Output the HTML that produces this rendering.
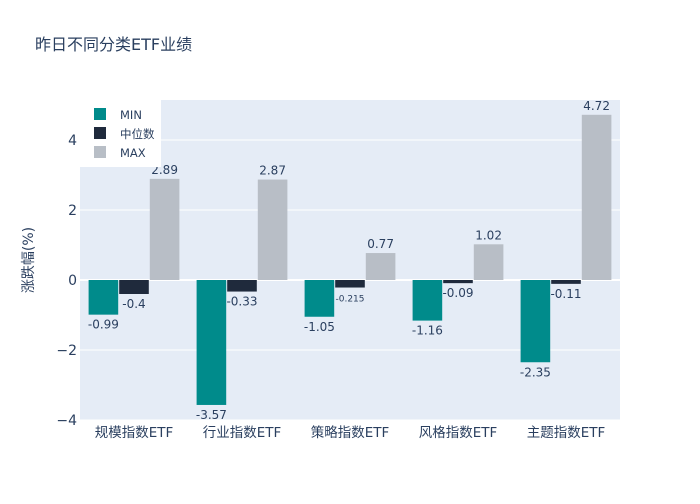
<!DOCTYPE html>
<html><head><meta charset="utf-8"><style>
body{margin:0;background:#fff;font-family:"DejaVu Sans","Noto Sans CJK SC",sans-serif}
</style></head><body>
<svg id="c" width="700" height="500" xmlns="http://www.w3.org/2000/svg" font-family="DejaVu Sans, Noto Sans CJK SC, sans-serif">
<text x="35" y="50" font-size="16" fill="#2a3f5f">昨日不同分类ETF业绩</text>
<rect x="80" y="100" width="540" height="320" fill="#e5ecf6"/>
<g id="grid"></g><g id="bars"></g><g id="labels"></g>
<text transform="translate(33,260) rotate(-90)" text-anchor="middle" font-size="14" fill="#2a3f5f">涨跌幅(%)</text>
<g>
<rect x="80" y="99" width="81" height="68" fill="#fff"/>
<rect x="94" y="108" width="12" height="12" fill="#008b8b"/>
<text x="120" y="119" font-size="11.5" fill="#2a3f5f">MIN</text>
<rect x="94" y="127" width="12" height="12" fill="#1f2a3c"/>
<text x="120" y="138" font-size="11.5" fill="#2a3f5f">中位数</text>
<rect x="94" y="146" width="12" height="12" fill="#b8bec6"/>
<text x="120" y="157" font-size="11.5" fill="#2a3f5f">MAX</text>
</g>
</svg>
<script>
const categories=["规模指数ETF","行业指数ETF","策略指数ETF","风格指数ETF","主题指数ETF"];
const minVals=[-0.99,-3.57,-1.05,-1.16,-2.35];
const medVals=[-0.4,-0.33,-0.215,-0.09,-0.11];
const maxVals=[2.89,2.87,0.77,1.02,4.72];
const yTicks=[-4,-2,0,2,4];
const NS="http://www.w3.org/2000/svg";
const X0=80,W=540,yTop=100,yBot=420,vMax=5.143,vMin=-4.0;
const y=v=>yTop+(vMax-v)/(vMax-vMin)*(yBot-yTop);
function mk(tag,attrs,parent){const e=document.createElementNS(NS,tag);for(const k in attrs)e.setAttribute(k,attrs[k]);document.getElementById(parent).appendChild(e);return e;}
yTicks.forEach(t=>{
 const l=mk('line',{x1:X0,x2:X0+W,y1:y(t),y2:y(t),stroke:'#fff','stroke-width':t===0?2:1},'grid');
 
 
 const tx=mk('text',{x:X0-3,y:y(t)+5,'text-anchor':'end','font-size':14,fill:'#2a3f5f'},'grid');
 tx.textContent=t<0?'−'+(-t):t;
 
 
});
const series=[[minVals,'#008b8b','min'],[medVals,'#1f2a3c','median'],[maxVals,'#b8bec6','max']];
const gw=W/categories.length,bw=gw*0.85/3;
categories.forEach((c,i)=>{
 const cx=X0+gw*(i+0.5);
 const tx=mk('text',{x:cx,y:y(vMin)+17,'text-anchor':'middle','font-size':13.5,fill:'#2a3f5f'},'labels');
 tx.textContent=c;
 
 
 series.forEach((s,j)=>{
  const v=s[0][i],bx=cx-1.5*bw+j*bw;
  const top=Math.min(y(v),y(0)),h=Math.abs(y(v)-y(0));
  const r=mk('rect',{x:bx+0.5,y:top,width:bw-1,height:h,fill:s[1]},'bars');
  
  
  const small=Math.abs(v)<0.3&&v<0&&String(v).length>5;
  const lt=mk('text',{x:bx+bw/2,y:v>=0?y(v)-5:y(v)+14,'text-anchor':'middle','font-size':small?9:12,fill:'#2a3f5f'},'labels');
  lt.textContent=String(v);
  
  
 });
});
</script>
</body></html>
